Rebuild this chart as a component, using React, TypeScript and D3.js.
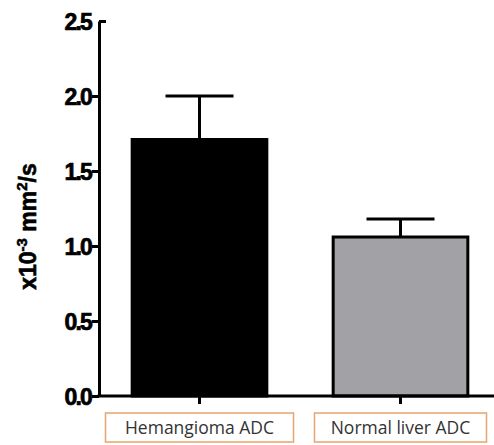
import { useEffect, useRef } from 'react';
import * as d3 from 'd3';

const categories = ['Hemangioma ADC', 'Normal liver ADC'];
const means = [1.71, 1.06];
const errors = [0.29, 0.12];
const fills = ['#000000', '#a2a1a6'];
const yTicks = [0, 0.5, 1.0, 1.5, 2.0, 2.5];

export default function App() {
  const svgRef = useRef<SVGSVGElement | null>(null);

  useEffect(() => {
    const svg = d3.select(svgRef.current);
    svg.selectAll('*').remove();

    const W = 494;
    const H = 445;
    const left = 99;
    const top = 21;
    const bottom = 396;

    const y = d3.scaleLinear().domain([0, 2.5]).range([bottom, top]);
    const x = d3.scaleBand<string>().domain(categories).range([99, 501]).paddingInner(0.33).paddingOuter(0.165);

    const g = svg.append('g');

    // bars + error bars
    categories.forEach((c, i) => {
      const bx = x(c)!;
      const bw = x.bandwidth();
      const cx = bx + bw / 2;
      g.append('line')
        .attr('x1', cx).attr('x2', cx)
        .attr('y1', y(means[i])).attr('y2', y(means[i] + errors[i]))
        .attr('stroke', '#000').attr('stroke-width', 3);
      g.append('line')
        .attr('x1', cx - 34).attr('x2', cx + 34)
        .attr('y1', y(means[i] + errors[i])).attr('y2', y(means[i] + errors[i]))
        .attr('stroke', '#000').attr('stroke-width', 3);
      g.append('rect')
        .attr('x', bx).attr('y', y(means[i]))
        .attr('width', bw).attr('height', y(0) - y(means[i]))
        .attr('fill', fills[i]).attr('stroke', '#000').attr('stroke-width', 3);
    });

    // y axis
    const yAxis = d3.axisLeft(y).tickValues(yTicks).tickFormat(d3.format('.1f')).tickSize(7).tickSizeOuter(0);
    const ya = svg.append('g').attr('transform', `translate(${left},0)`).call(yAxis);
    ya.select('.domain').attr('stroke-width', 3);
    ya.selectAll('.tick line').attr('stroke-width', 3);
    ya.selectAll('.tick text')
      .attr('font-family', '"Liberation Sans", Arial, sans-serif')
      .attr('font-weight', 700)
      .attr('font-size', 23)
      .attr('letter-spacing', -1.8)
      .attr('fill', '#000')
      .attr('stroke', '#000')
      .attr('stroke-width', 0.7)
      .attr('x', -8)
      .attr('dy', '0.36em');
    // top tick at 2.5 points to the right in the reference
    ya.selectAll('.tick').filter((d: any) => d === 2.5).select('line').attr('x2', 7).attr('x1', 0);

    // x axis
    const xAxis = d3.axisBottom(x).tickSize(8).tickSizeOuter(0).tickFormat(() => '');
    const xa = svg.append('g').attr('transform', `translate(0,${bottom})`).call(xAxis);
    xa.select('.domain').attr('stroke-width', 3).attr('d', `M${left - 1.5},0H${W}`);
    xa.selectAll('.tick line').attr('stroke-width', 3);

    // category label boxes
    const boxW = [188, 172];
    categories.forEach((c, i) => {
      const cx = x(c)! + x.bandwidth() / 2;
      svg.append('rect')
        .attr('x', cx - boxW[i] / 2).attr('y', 413)
        .attr('width', boxW[i]).attr('height', 29)
        .attr('fill', '#fff').attr('stroke', '#e8a46c').attr('stroke-width', 1.5);
      svg.append('text')
        .attr('x', cx).attr('y', 434)
        .attr('text-anchor', 'middle')
        .attr('font-family', '"Open Sans", sans-serif')
        .attr('font-size', 17.5)
        .attr('fill', '#333')
        .text(c);
    });

    // y axis title
    const t = svg.append('text')
      .attr('transform', `translate(36,${(top + bottom) / 2 + 18}) rotate(-90)`)
      .attr('text-anchor', 'middle')
      .attr('font-family', '"Liberation Sans", Arial, sans-serif')
      .attr('font-weight', 700)
      .attr('font-size', 23)
      .attr('fill', '#000')
      .attr('stroke', '#000')
      .attr('stroke-width', 0.6);
    t.append('tspan').text('x10');
    t.append('tspan').attr('dy', -9).attr('font-size', 15).text('-3');
    t.append('tspan').attr('dy', 9).text(' mm');
    t.append('tspan').attr('dy', -9).attr('font-size', 15).text('2');
    t.append('tspan').attr('dy', 9).text('/s');

    svg.attr('width', W).attr('height', H);
  }, []);

  return (
    <svg
      ref={svgRef}
      width={494}
      height={445}
      style={{ position: 'fixed', left: 0, top: 0, background: '#fff' }}
    />
  );
}
